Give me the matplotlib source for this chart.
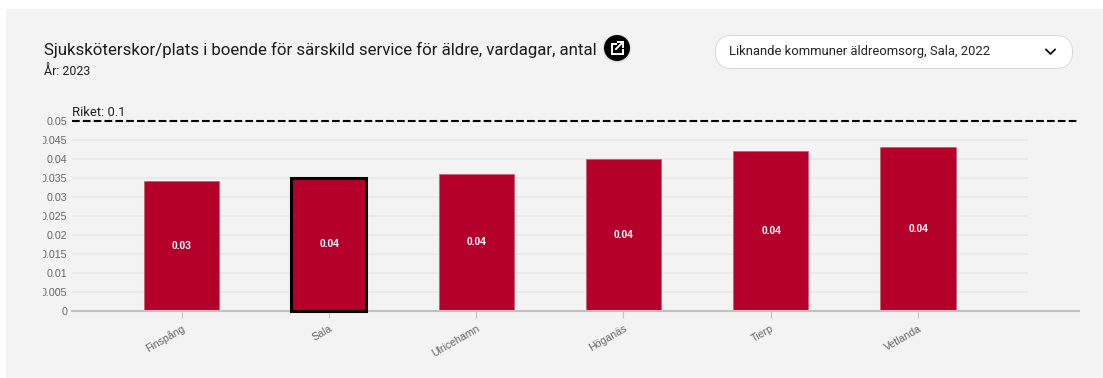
import matplotlib
matplotlib.use("Agg")
import matplotlib.pyplot as plt
from matplotlib.patches import Rectangle, FancyBboxPatch, Circle
from matplotlib.transforms import Bbox

W, H = 1103, 378

# Data
kommuner = ["Finspång", "Sala", "Ulricehamn", "Höganäs", "Tierp", "Vetlanda"]
varden = [0.034, 0.035, 0.036, 0.040, 0.042, 0.043]
riket = 0.1
y_ticks = [0, 0.005, 0.01, 0.015, 0.02, 0.025, 0.03, 0.035, 0.04, 0.045, 0.05]
y_labels = ["0", "0.005", "0.01", "0.015", "0.02", "0.025", "0.03", "0.035", "0.04", "0.045", "0.05"]
vald_kommun = "Sala"

RED = "#b4002b"
PANEL = "#f3f3f3"
GRID = "#e6e6e6"

fig = plt.figure(figsize=(W / 100, H / 100), dpi=100, facecolor="white")

# page layer in pixel coordinates, y pointing down
bg = fig.add_axes([0, 0, 1, 1])
bg.set_xlim(0, W)
bg.set_ylim(H, 0)
bg.axis("off")
bg.add_patch(Rectangle((6, 9), W - 6, H - 9, facecolor=PANEL, edgecolor="none"))

bg.text(44, 49.5, "Sjuksköterskor/plats i boende för särskild service för äldre, vardagar, antal",
        family="Roboto", fontsize=12.17, color="#1c1c1c", va="center", ha="left")
bg.text(44, 71.5, "År: 2023", family="Roboto", fontsize=8.9, color="#222222", va="center", ha="left")

# open-in-new button
bg.add_patch(Circle((617, 48.5), 14.2, facecolor="#e2e2e2", edgecolor="none"))
bg.add_patch(Circle((617, 48), 13, facecolor="black", edgecolor="none"))
bg.plot([611.5, 611.5, 622.5, 622.5], [44, 54, 54, 49.5], color="white", lw=1.4, solid_joinstyle="miter")
bg.plot([611.5, 615.5], [44, 44], color="white", lw=1.4)
bg.plot([616, 622.5], [49, 42.5], color="white", lw=1.4)
bg.plot([618, 623, 623], [42, 42, 47], color="white", lw=1.4, solid_joinstyle="miter")

# dropdown
bg.add_patch(FancyBboxPatch((715.5, 35.5), 357, 33, boxstyle="round,pad=0,rounding_size=16.5",
                            facecolor="white", edgecolor="#d8d8d8", lw=0.7))
bg.text(729, 52, "Liknande kommuner äldreomsorg, Sala, 2022", family="Roboto", fontsize=9.4,
        color="#222222", va="center", ha="left")
bg.plot([1046, 1050.5, 1055], [49.5, 54, 49.5], color="#111111", lw=1.3)

# chart axes: y=0 at 310.7 px, top tick at 120.6 px, left 72 px, right 1079 px
ax = fig.add_axes([72 / W, 1 - 310.7 / H, (1079 - 72) / W, (310.7 - 120.6) / H])
ax.patch.set_alpha(0)
band = 147.3
ax.set_xlim((72 - 181.5) / band, (1079 - 181.5) / band)
ax.set_ylim(0, 0.05)

x = list(range(len(kommuner)))
grid_end = (1028 - 181.5) / band
ax.hlines(y_ticks[1:], ax.get_xlim()[0], grid_end, color=GRID, lw=1.1, zorder=1)

bars = ax.bar(x, varden, width=0.51, color=RED, edgecolor="#c8506a", linewidth=0.4, zorder=2)
for rect, namn in zip(bars, kommuner):
    if namn == vald_kommun:
        rect.set_edgecolor("black")
        rect.set_linewidth(2.2)
        rect.set_clip_on(False)
        rect.set_zorder(4)

for xi, v in zip(x, varden):
    ax.text(xi + 0.003, v / 2, f"{v:.2f}", color="white", fontsize=7.4, fontweight="bold",
            family="Liberation Sans", ha="center", va="center", zorder=5)

# the national line is held at the top of the scale
line_y = min(riket, ax.get_ylim()[1])
ax.plot(ax.get_xlim(), [line_y, line_y], color="black", lw=1.5, linestyle=(0, (3.7, 1.5)),
        clip_on=False, zorder=6)
ax.annotate(f"Riket: {riket}", (ax.get_xlim()[0], line_y), xytext=(0, 1.5), textcoords="offset points",
            family="Roboto", fontsize=9.4, color="#222222", ha="left", va="bottom")

for s in ["top", "left", "right"]:
    ax.spines[s].set_visible(False)
ax.spines["bottom"].set_color("#c0c0c0")
ax.spines["bottom"].set_linewidth(1.5)

ax.set_yticks(y_ticks)
ax.set_yticklabels(y_labels, family="Liberation Sans", fontsize=7.7, color="#666666")
ax.tick_params(axis="y", length=0, pad=3.5)

ax.set_xticks(x)
ax.set_xticklabels(kommuner, family="Liberation Sans", fontsize=7.6, color="#666666",
                   rotation=30, ha="right", rotation_mode="anchor")
ax.tick_params(axis="x", length=5, width=0.8, color="#c0c0c0", pad=4)

# narrow label gutter cuts the longest tick labels at the left
gutter = Bbox.from_extents(43, 0, W, H)
for lab in ax.get_yticklabels():
    lab.set_clip_box(gutter)
    lab.set_clip_on(True)

fig.savefig("out.png", dpi=100, facecolor="white")
plt.close()
